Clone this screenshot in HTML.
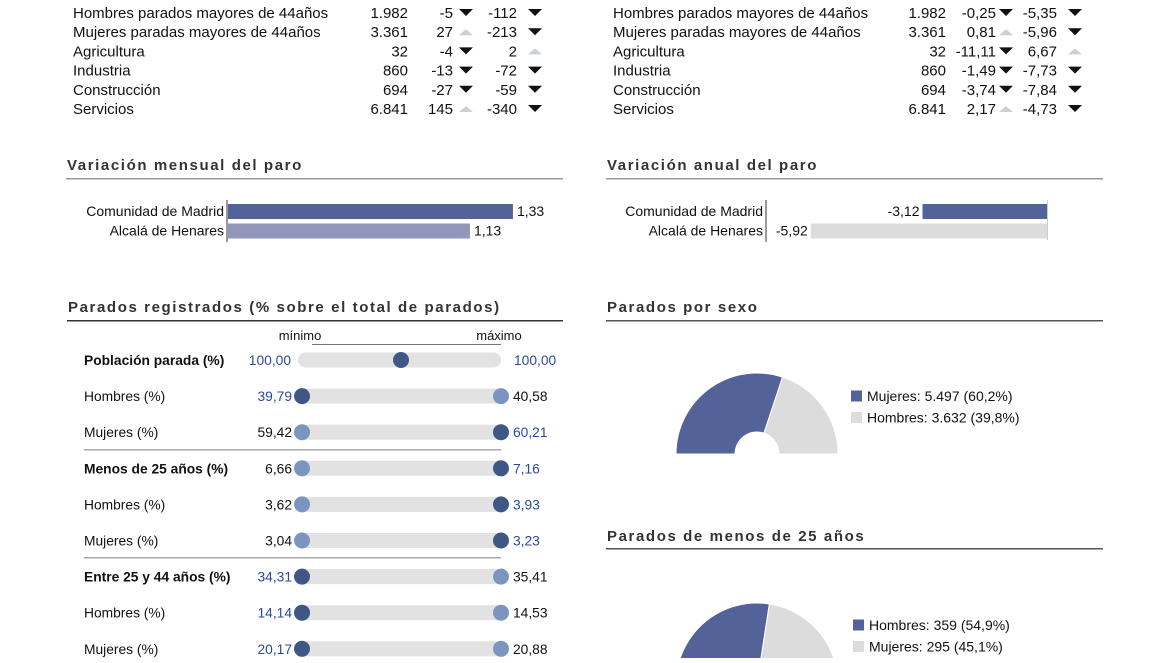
<!DOCTYPE html>
<html><head><meta charset="utf-8">
<style>
body{margin:0;background:#fff;width:1170px;height:658px;overflow:hidden;font-family:"Liberation Sans",sans-serif;}
svg text{font-family:"Liberation Sans",sans-serif;}
</style></head>
<body>
<svg id="page" width="1170" height="658" viewBox="0 0 1170 658" xmlns="http://www.w3.org/2000/svg">
<g id="tables"></g>
<g id="titles"></g>
<g id="bars"></g>
<g id="dumb"></g>
<g id="pies"></g>
</svg>
<script>
const NS="http://www.w3.org/2000/svg";
function mk(p,t,a,txt){const e=document.createElementNS(NS,t);for(const k in a)e.setAttribute(k,a[k]);if(txt!==undefined)e.textContent=txt;p.appendChild(e);return e;}
function fmt(v,d){return v.toFixed(d).replace('.',',');}

// ---- Top tables data ----
const rowLabels=["Hombres parados mayores de 44años","Mujeres paradas mayores de 44años","Agricultura","Industria","Construcción","Servicios"];
const rowValues=["1.982","3.361","32","860","694","6.841"];
const monthAbs=[-5,27,-4,-13,-27,145];
const yearAbs=[-112,-213,2,-72,-59,-340];
const monthPct=[-0.25,0.81,-11.11,-1.49,-3.74,2.17];
const yearPct=[-5.35,-5.96,6.67,-7.73,-7.84,-4.73];

const T=document.getElementById('tables');
function tri(g,x,y,up){
  const e=up?mk(g,'path',{d:`M${x} ${y+3}L${x+7} ${y-3}L${x+14} ${y+3}Z`,fill:'#c8d2d2'}):mk(g,'path',{d:`M${x} ${y-4}L${x+14} ${y-4}L${x+7} ${y+3}Z`,fill:'#111'});
  
  
}
function table(x0,valsM,valsY,dec,cfg,name){
  const g=mk(T,'g',{});
  
  
  rowLabels.forEach((l,i)=>{
    const y=13+i*19.2;
    const r=mk(g,'g',{});
    
    
    mk(r,'text',{x:x0,y:y+5,'font-size':15,fill:'#111'},l);
    mk(r,'text',{x:cfg.v,y:y+5,'font-size':15,fill:'#111','text-anchor':'end'},rowValues[i]);
    mk(r,'text',{x:cfg.m,y:y+5,'font-size':15,fill:'#111','text-anchor':'end'},dec?fmt(valsM[i],2):valsM[i]);
    tri(r,cfg.mt,y,valsM[i]>0);
    mk(r,'text',{x:cfg.y,y:y+5,'font-size':15,fill:'#111','text-anchor':'end'},dec?fmt(valsY[i],2):valsY[i]);
    tri(r,cfg.yt,y,valsY[i]>0);
  });
}
table(73,monthAbs,yearAbs,false,{v:408,m:453,mt:459,y:517,yt:528},'absolute-table');
table(613,monthPct,yearPct,true,{v:946,m:996,mt:999,y:1057,yt:1068},'percent-table');

// ---- Titles ----
const TT=document.getElementById('titles');
function title(x,y,w,txt,lineY,col,name){
  const t=mk(TT,'text',{x:x,y:y,'font-size':15,'font-weight':'bold',fill:'#333','letter-spacing':'1.6'},txt);
  
  
  const l=mk(TT,'rect',{x:x-1,y:lineY,width:w,height:1.5,fill:col});
  
  
}
title(67,170,497,"Variación mensual del paro",178,'#999','monthly-title');
title(607,170,497,"Variación anual del paro",178,'#999','annual-title');
title(68,312,496,"Parados registrados (% sobre el total de parados)",320,'#333','registered-title');
title(607,312,497,"Parados por sexo",320,'#555','sex-title');
title(607,541,497,"Parados de menos de 25 años",548,'#555','under25-title');

// ---- Bar charts ----
const barCats=["Comunidad de Madrid","Alcalá de Henares"];
const monthlyVals=[1.33,1.13];
const annualVals=[-3.12,-5.92];
const B=document.getElementById('bars');
const xm=v=>227+v*215;
mk(B,'rect',{x:226,y:200,width:2,height:42,fill:'#999'});
monthlyVals.forEach((v,i)=>{
  const y=204+i*19.5;
  const b=mk(B,'rect',{x:228,y:y,width:xm(v)-228,height:15,fill:i?'#9196ba':'#536399'});
  
  
  mk(B,'text',{x:224,y:y+12,'font-size':14,fill:'#111','text-anchor':'end'},barCats[i]);
  mk(B,'text',{x:xm(v)+4,y:y+12,'font-size':14,fill:'#111'},fmt(v,2));
});
const xa=v=>1047+v*39.9;
mk(B,'rect',{x:765,y:200,width:2,height:42,fill:'#999'});
mk(B,'rect',{x:1047,y:200,width:1,height:40,fill:'#ccc'});
annualVals.forEach((v,i)=>{
  const y=204+i*19.5;
  const b=mk(B,'rect',{x:xa(v),y:y,width:1047-xa(v),height:15,fill:i?'#dcdcdc':'#536399'});
  
  
  mk(B,'text',{x:763,y:y+12,'font-size':14,fill:'#111','text-anchor':'end'},barCats[i]);
  mk(B,'text',{x:xa(v)-3,y:y+12,'font-size':14,fill:'#111','text-anchor':'end'},fmt(v,2));
});

// ---- Dumbbell ----
const dLabels=["Población parada (%)","Hombres (%)","Mujeres (%)","Menos de 25 años (%)","Hombres (%)","Mujeres (%)","Entre 25 y 44 años (%)","Hombres (%)","Mujeres (%)"];
const dBold=[1,0,0,1,0,0,1,0,0];
const dMin=[100.00,39.79,59.42,6.66,3.62,3.04,34.31,14.14,20.17];
const dMax=[100.00,40.58,60.21,7.16,3.93,3.23,35.41,14.53,20.88];
const dLeftDark=[1,1,0,0,0,0,1,1,1];
const D=document.getElementById('dumb');
const BLUE='#2c4a9a',DARK='#3e5785',LIGHT='#7a96c0';
mk(D,'text',{x:300,y:340,'font-size':13,fill:'#111','text-anchor':'middle'},'mínimo');
mk(D,'text',{x:499,y:340,'font-size':13,fill:'#111','text-anchor':'middle'},'máximo');
mk(D,'rect',{x:312,y:344,width:189,height:1,fill:'#777'});
mk(D,'rect',{x:84,y:449,width:417,height:1.5,fill:'#aaa'});
mk(D,'rect',{x:84,y:557,width:417,height:1.5,fill:'#aaa'});
dLabels.forEach((l,i)=>{
  const y=360+i*36.1;
  const g=mk(D,'g',{});
  
  
  mk(g,'text',{x:84,y:y+5,'font-size':13.8,fill:'#111','font-weight':dBold[i]?'bold':'normal'},l);
  if(i===0){
    mk(g,'rect',{x:298,y:y-7.5,width:203,height:15,rx:7.5,fill:'#e2e2e2'});
    mk(g,'circle',{cx:401,cy:y,r:8,fill:DARK});
    mk(g,'text',{x:291,y:y+5,'font-size':13.8,fill:BLUE,'text-anchor':'end'},fmt(dMin[i],2));
    mk(g,'text',{x:514,y:y+5,'font-size':13.8,fill:BLUE},fmt(dMax[i],2));
  } else {
    mk(g,'rect',{x:302,y:y-7.5,width:199,height:15,fill:'#e2e2e2'});
    const ld=dLeftDark[i];
    const c1=mk(g,'circle',{cx:302,cy:y,r:8,fill:ld?DARK:LIGHT});
    
    
    const c2=mk(g,'circle',{cx:501,cy:y,r:8,fill:ld?LIGHT:DARK});
    
    
    mk(g,'text',{x:292,y:y+5,'font-size':13.8,fill:ld?BLUE:'#111','text-anchor':'end'},fmt(dMin[i],2));
    mk(g,'text',{x:513,y:y+5,'font-size':13.8,fill:ld?'#111':BLUE},fmt(dMax[i],2));
  }
});

// ---- Semi donuts ----
const sexLabels=["Mujeres","Hombres"];
const sexVals=[5497,3632];
const youngLabels=["Hombres","Mujeres"];
const youngVals=[359,295];
const P=document.getElementById('pies');
function semi(cx,cy,R,r,labels,vals,lx,ly,name){
  const g=mk(P,'g',{});
  
  
  const tot=vals.reduce((a,b)=>a+b,0);
  let a0=Math.PI;const cols=['#536399','#dcdcdc'];
  vals.forEach((v,i)=>{
    const a1=a0-Math.PI*v/tot;
    const p=(rad,a)=>`${cx+rad*Math.cos(a)} ${cy-rad*Math.sin(a)}`;
    const s=mk(g,'path',{d:`M${p(R,a0)}A${R} ${R} 0 0 1 ${p(R,a1)}L${p(r,a1)}A${r} ${r} 0 0 0 ${p(r,a0)}Z`,fill:cols[i],stroke:'#fff','stroke-width':1});
    
    
    const pct=(v/tot*100).toFixed(1).replace('.',',');
    const sq=mk(g,'rect',{x:lx,y:ly+i*21.5-5.5,width:11,height:11,fill:cols[i]});
    
    
    const t=mk(g,'text',{x:lx+16,y:ly+i*21.5+5,'font-size':14,fill:'#111'},`${labels[i]}: ${v.toLocaleString('de-DE')} (${pct}%)`);
    
    
    a0=a1;
  });
}
semi(757,454,81,22,sexLabels,sexVals,851,396,'sex-donut');
semi(757,684,81,22,youngLabels,youngVals,853,625,'under25-donut');
</script>
</body></html>
